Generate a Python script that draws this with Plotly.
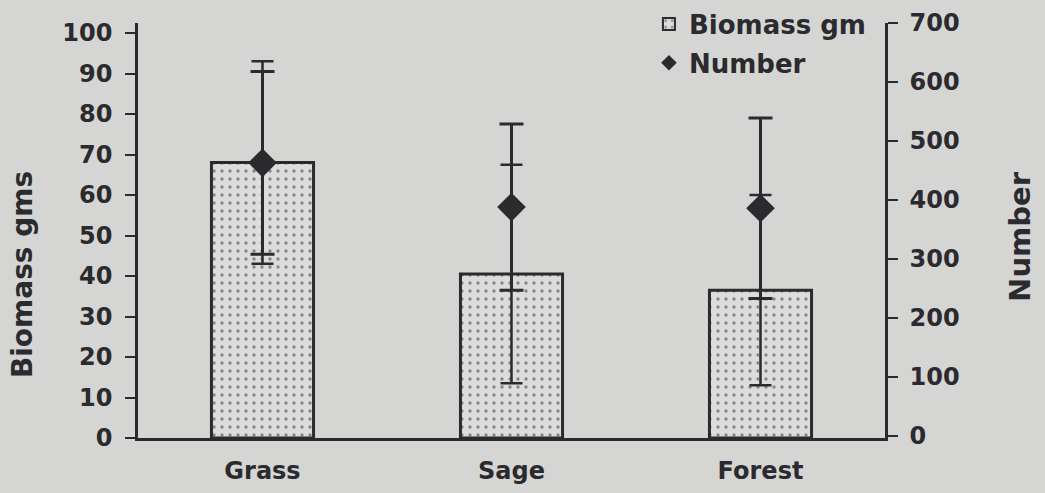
import plotly.graph_objects as go

categories = ["Grass", "Sage", "Forest"]
biomass = [68, 40.5, 36.5]
biomass_err = [25, 27, 23.5]
number = [463, 388, 386]
number_err = [155, 141, 153]

left_ticks = list(range(0, 101, 10))
right_ticks = list(range(0, 701, 100))

INK = "#2a2a2f"
BG = "#d5d6d3"
FONT = "DejaVu Sans"

xpos = list(range(len(categories)))
bounds = [i - 0.5 for i in range(len(categories) + 1)]

# scanned original: left scale spans 405 px, right scale 413 px, in a 415 px plot area
LEFT_RANGE = [0, 102.47]
RIGHT_RANGE = [-3.4, 700]

fig = go.Figure()
fig.add_trace(go.Bar(
    x=xpos, y=biomass, name="Biomass gm", width=0.41, legendgroup="b",
    marker=dict(color="#dcdcda", line=dict(color=INK, width=3),
                pattern=dict(shape=".", fgcolor=INK, bgcolor="#dcdcda", size=8, solidity=0.13)),
    error_y=dict(type="data", array=biomass_err, color=INK, thickness=2.5, width=11),
    yaxis="y",
))
fig.add_trace(go.Scatter(
    x=xpos, y=number, name="Number", mode="markers", legendgroup="n",
    marker=dict(symbol="diamond", size=22, color=INK),
    error_y=dict(type="data", array=number_err, color=INK, thickness=3, width=12),
    yaxis="y2",
))

tickfont = dict(family=FONT, size=24, color=INK, weight="bold")

fig.update_layout(
    width=1045, height=493,
    paper_bgcolor=BG, plot_bgcolor=BG,
    margin=dict(l=138, r=160, t=23, b=55, autoexpand=False),
    showlegend=True,
    legend=dict(x=0.684, y=1.054, xanchor="left", yanchor="top",
                bgcolor="rgba(0,0,0,0)", font=dict(family=FONT, size=26, color=INK, weight="bold"),
                tracegroupgap=2, itemsizing="constant"),
    xaxis=dict(range=[-0.5, len(categories) - 0.5], tickvals=xpos, ticktext=categories,
               ticks="", showgrid=False, zeroline=False, showline=True, linecolor=INK, linewidth=2.5,
               tickfont=dict(family=FONT, size=24, color=INK, weight="bold"), ticklabelstandoff=9),
    xaxis2=dict(overlaying="x", anchor="y", side="bottom", range=[-0.5, len(categories) - 0.5],
                tickvals=bounds, showticklabels=False, ticks="outside", ticklen=9, tickwidth=2,
                tickcolor=INK, showgrid=False, zeroline=False, showline=False),
    xaxis3=dict(overlaying="x", anchor="y", side="bottom", range=[-0.5, len(categories) - 0.5],
                tickvals=bounds, showticklabels=False, ticks="inside", ticklen=9, tickwidth=2,
                tickcolor=INK, showgrid=False, zeroline=False, showline=False),
    yaxis=dict(range=LEFT_RANGE, tickvals=left_ticks, ticks="outside", ticklen=10, tickwidth=2,
               tickcolor=INK, showline=True, linecolor=INK, linewidth=2.5, showgrid=False,
               zeroline=False, tickfont=tickfont, ticklabelstandoff=8),
    yaxis3=dict(overlaying="y", anchor="x", side="left", range=LEFT_RANGE, tickvals=left_ticks,
                ticks="inside", ticklen=10, tickwidth=2, tickcolor=INK, showticklabels=False,
                showline=False, showgrid=False, zeroline=False),
    yaxis2=dict(overlaying="y", anchor="x", side="right", range=RIGHT_RANGE, tickvals=right_ticks,
                ticks="outside", ticklen=10, tickwidth=2, tickcolor=INK, showline=True,
                linecolor=INK, linewidth=2.5, showgrid=False, zeroline=False, tickfont=tickfont,
                ticklabelstandoff=7),
    yaxis4=dict(overlaying="y", anchor="x", side="right", range=RIGHT_RANGE, tickvals=right_ticks,
                ticks="inside", ticklen=10, tickwidth=2, tickcolor=INK, showticklabels=False,
                showline=False, showgrid=False, zeroline=False),
    annotations=[
        dict(text="Biomass gms", textangle=-90, xref="paper", yref="paper",
             x=-0.1553, y=0.395, xanchor="center", yanchor="middle", showarrow=False,
             font=dict(family=FONT, size=28, color=INK, weight="bold")),
        dict(text="Number", textangle=-90, xref="paper", yref="paper",
             x=1.1807, y=0.487, xanchor="center", yanchor="middle", showarrow=False,
             font=dict(family=FONT, size=29, color=INK, weight="bold")),
    ],
)

fig.write_html("out.html", config={"displayModeBar": False},
               post_script="document.body.style.margin='0';document.body.style.padding='0';"
                           "document.body.style.background='#d5d6d3';")
